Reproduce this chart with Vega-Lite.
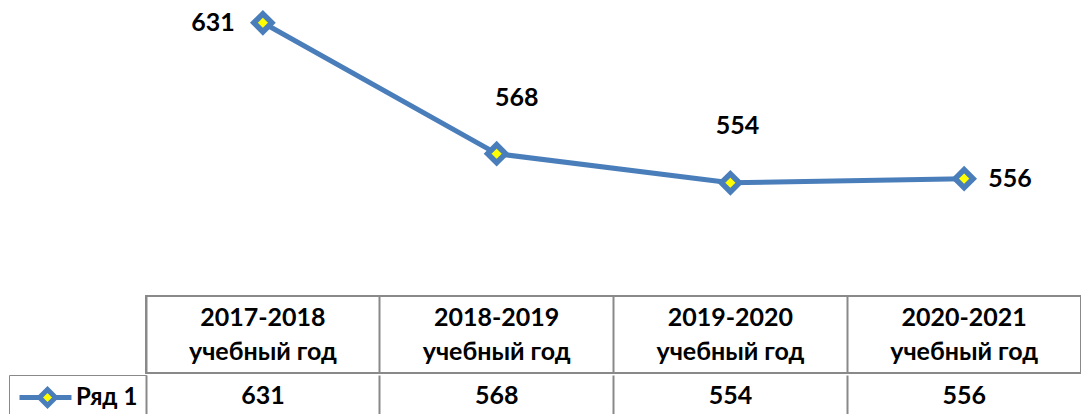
{
  "$schema": "https://vega.github.io/schema/vega-lite/v6.json",
  "background": "#ffffff",
  "padding": {"left": 8, "top": 2, "right": 0, "bottom": 0},
  "spacing": 0,
  "data": {"values": [
    {"year": "2017-2018", "header": "2017-2018\nучебный год", "value": 631, "series": "Ряд 1"},
    {"year": "2018-2019", "header": "2018-2019\nучебный год", "value": 568, "series": "Ряд 1"},
    {"year": "2019-2020", "header": "2019-2020\nучебный год", "value": 554, "series": "Ряд 1"},
    {"year": "2020-2021", "header": "2020-2021\nучебный год", "value": 556, "series": "Ряд 1"}
  ]},
  "config": {
    "view": {"stroke": null},
    "text": {"font": "Lato, Open Sans, sans-serif", "fontWeight": "bold", "fontSize": 25, "color": "#000000"}
  },
  "resolve": {"scale": {"stroke": "independent"}, "legend": {"stroke": "independent"}},
  "vconcat": [
    {
      "width": 935,
      "height": 293,
      "encoding": {
        "x": {"field": "year", "type": "nominal", "scale": {"type": "point", "padding": 0.5}, "axis": null},
        "y": {"field": "value", "type": "quantitative", "scale": {"domain": [500, 641], "zero": false, "nice": false}, "axis": null}
      },
      "layer": [
        {"mark": {"type": "line", "color": "#4a7ebb", "strokeWidth": 5}},
        {"mark": {"type": "point", "shape": "diamond", "size": 324, "filled": true, "fill": "#ffff00", "stroke": "#4a7ebb", "strokeWidth": 5.5, "opacity": 1}},
        {"transform": [{"filter": "datum.value == 631"}], "mark": {"type": "text", "align": "right", "baseline": "middle", "dx": -28}, "encoding": {"text": {"field": "value"}}},
        {"transform": [{"filter": "datum.value == 568"}], "mark": {"type": "text", "align": "center", "baseline": "middle", "dx": 20, "dy": -56}, "encoding": {"text": {"field": "value"}}},
        {"transform": [{"filter": "datum.value == 554"}], "mark": {"type": "text", "align": "center", "baseline": "middle", "dx": 7, "dy": -57}, "encoding": {"text": {"field": "value"}}},
        {"transform": [{"filter": "datum.value == 556"}], "mark": {"type": "text", "align": "left", "baseline": "middle", "dx": 24}, "encoding": {"text": {"field": "value"}}}
      ]
    },
    {
      "width": 935,
      "height": 77,
      "view": {"stroke": "#898989", "strokeWidth": 2},
      "mark": {"type": "text", "align": "center", "baseline": "middle", "lineBreak": "\n", "lineHeight": 34, "dy": -17},
      "encoding": {
        "x": {"field": "year", "type": "nominal", "scale": {"type": "band", "paddingInner": 0, "paddingOuter": 0},
              "axis": {"orient": "top", "labels": false, "ticks": false, "domain": false, "title": null, "grid": true, "bandPosition": 0, "gridColor": "#898989", "gridWidth": 2, "gridOpacity": 1}},
        "text": {"field": "header"}
      }
    },
    {
      "width": 935,
      "height": 44,
      "encoding": {
        "x": {"field": "year", "type": "nominal", "scale": {"type": "band", "paddingInner": 0, "paddingOuter": 0},
              "axis": {"orient": "top", "labels": false, "ticks": false, "domain": false, "title": null, "grid": true, "bandPosition": 0, "gridColor": "#898989", "gridWidth": 2, "gridOpacity": 1}}
      },
      "layer": [
        {
          "mark": {"type": "text", "align": "center", "baseline": "middle", "dy": -1},
          "encoding": {"text": {"field": "value"}}
        },
        {
          "mark": {"type": "point", "size": 0, "filled": true, "fill": "#ffff00", "strokeWidth": 5},
          "encoding": {
            "stroke": {"field": "series", "type": "nominal", "scale": {"range": ["#4a7ebb"]},
              "legend": {
                "orient": "left", "offset": 0, "title": null, "padding": 8,
                "strokeColor": "#898989",
                "symbolType": "M-1,0H0.667M2,0H3.333M1.333,-0.667L2,0L1.333,0.667L0.667,0Z",
                "symbolSize": 576, "symbolStrokeWidth": 5, "symbolOpacity": 1,
                "symbolFillColor": "#ffff00",
                "labelFont": "Lato, Open Sans, sans-serif", "labelFontWeight": "bold", "labelFontSize": 24, "labelColor": "#000000", "labelOffset": 30
              }
            }
          }
        }
      ]
    }
  ]
}
